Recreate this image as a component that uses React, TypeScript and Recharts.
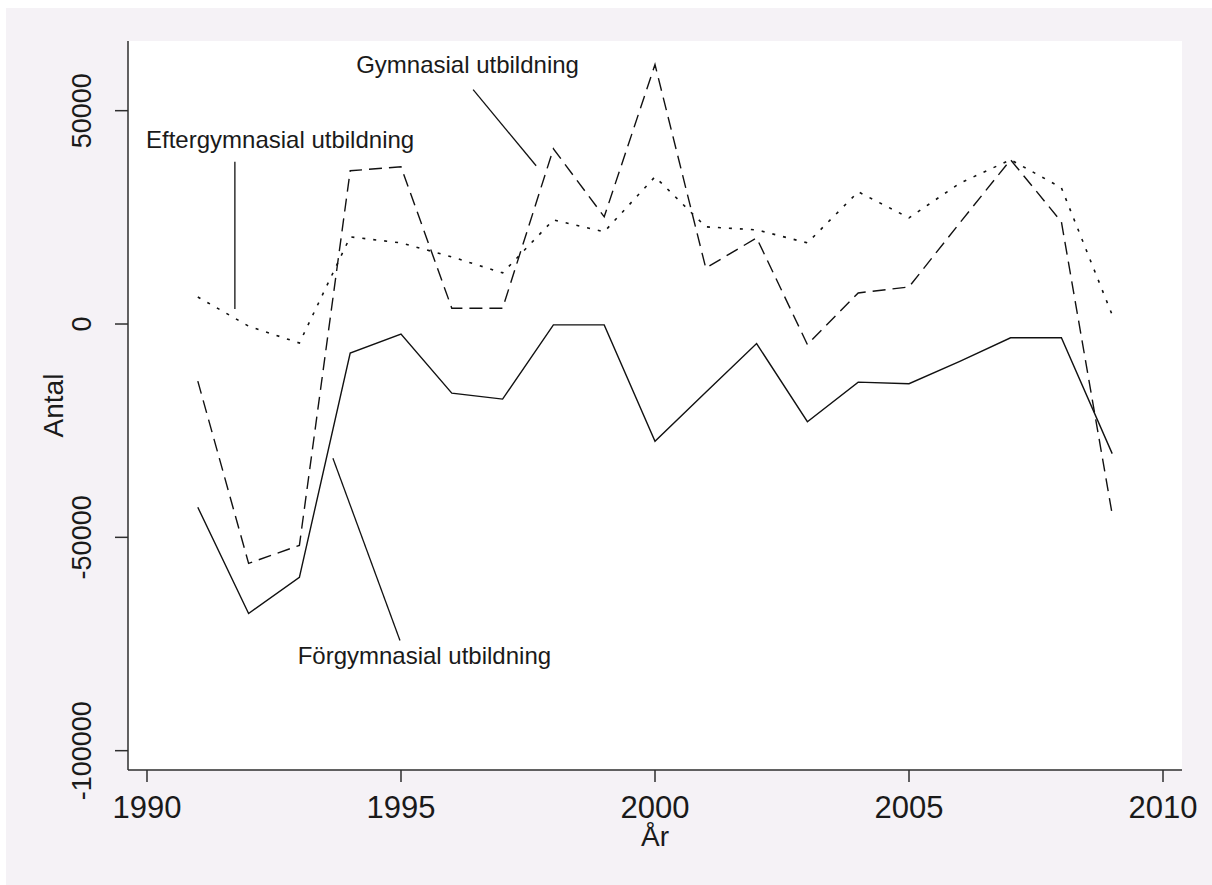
import React from 'react';
import { LineChart, Line, XAxis, YAxis, ReferenceLine, ReferenceDot, CartesianGrid } from 'recharts';

const years = [1991, 1992, 1993, 1994, 1995, 1996, 1997, 1998, 1999, 2000, 2001, 2002, 2003, 2004, 2005, 2006, 2007, 2008, 2009];
const forgymnasial = [-42960, -67840, -59390, -6810, -2350, -16200, -17600, -200, -200, -27470, -16000, -4580, -22910, -13620, -13990, -8760, -3220, -3220, -30380];
const gymnasial = [-13380, -56100, -51880, 35920, 36850, 3700, 3700, 41080, 25120, 60800, 13100, 20190, -4810, 7280, 8690, 23710, 38500, 23940, -44600];
const eftergymnasial = [6340, -500, -4460, 20420, 19010, 15730, 11970, 24410, 21600, 34510, 22770, 22070, 19010, 30990, 24880, 33000, 38500, 31930, 2110];

const xTicks = [1990, 1995, 2000, 2005, 2010];
const xDomain = [1989.626, 2010.374];
const yTicks = [-100000, -50000, 0, 50000];
const yDomain = [-104530, 66330];
const gridValues = [-50000, 0, 50000];

const seriesNames = ['Förgymnasial utbildning', 'Gymnasial utbildning', 'Eftergymnasial utbildning'];
const labelPos = [
  { x: 1995.46, y: -77700 },
  { x: 1996.31, y: 60900 },
  { x: 1992.62, y: 43300 },
];
const leaderLines = [
  [{ x: 1993.66, y: -31450 }, { x: 1994.98, y: -74180 }],
  [{ x: 1996.42, y: 54930 }, { x: 1997.66, y: 37090 }],
  [{ x: 1991.73, y: 38030 }, { x: 1991.73, y: 3520 }],
];

const data = years.map((yr, i) => ({
  year: yr,
  forg: forgymnasial[i],
  gym: gymnasial[i],
  efter: eftergymnasial[i],
}));

const FONT = 'Liberation Sans, Arial, sans-serif';
const TEXT = '#1a1a1a';
const AXIS = '#2e2e2e';

const XTick = (props: any) => {
  const { x, y, payload } = props;
  return (
    <text x={x} y={y + 36} textAnchor="middle" fontSize={31} fill={TEXT} fontFamily={FONT}>
      {payload.value}
    </text>
  );
};

const YTick = (props: any) => {
  const { x, y, payload } = props;
  const tx = x - 24;
  return (
    <text x={tx} y={y} transform={`rotate(-90, ${tx}, ${y})`} textAnchor="middle" fontSize={27} fill={TEXT} fontFamily={FONT}>
      {payload.value}
    </text>
  );
};

const YLabel = (props: any) => {
  const vb = props.viewBox || { x: 0, y: 33, width: 122, height: 729 };
  const cx = vb.x + 57;
  const cy = vb.y + vb.height / 2;
  return (
    <text x={cx} y={cy} transform={`rotate(-90, ${cx}, ${cy})`} textAnchor="middle" fontSize={28} fill={TEXT} fontFamily={FONT}>
      Antal
    </text>
  );
};

const XLabel = (props: any) => {
  const vb = props.viewBox || { x: 122, y: 762, width: 1054, height: 115 };
  const cx = vb.x + vb.width / 2;
  const cy = vb.y + 76;
  return (
    <text x={cx} y={cy} textAnchor="middle" fontSize={28} fill={TEXT} fontFamily={FONT}>
      År
    </text>
  );
};

const gridGen = (props: any) => {
  const ya = props && props.yAxis;
  if (ya && typeof ya.scale === 'function') {
    return gridValues.map((v) => ya.scale(v));
  }
  return [];
};

export default function App() {
  return (
    <div style={{ position: 'absolute', left: 6, top: 8, width: 1206, height: 877, background: '#f5f2f6' }}>
      <LineChart width={1206} height={877} data={data} margin={{ top: 33, right: 30, left: 0, bottom: 0 }}>
        <CartesianGrid fill="#ffffff" vertical={false} horizontal={true} stroke="#ece8ee" strokeWidth={1.5} horizontalCoordinatesGenerator={gridGen} />
        <XAxis
          dataKey="year"
          type="number"
          domain={xDomain}
          ticks={xTicks}
          height={115}
          tickSize={12}
          tickMargin={0}
          tick={<XTick />}
          axisLine={{ stroke: AXIS, strokeWidth: 1.5 }}
          tickLine={{ stroke: AXIS, strokeWidth: 1.5 }}
          label={<XLabel />}
        />
        <YAxis
          type="number"
          domain={yDomain}
          ticks={yTicks}
          width={122}
          tickSize={13}
          tickMargin={0}
          tick={<YTick />}
          axisLine={{ stroke: AXIS, strokeWidth: 1.5 }}
          tickLine={{ stroke: AXIS, strokeWidth: 1.5 }}
          label={<YLabel />}
        />
        {leaderLines.map((seg, i) => (
          <ReferenceLine key={'l' + i} segment={seg} stroke="#111" strokeWidth={1.3} ifOverflow="visible" />
        ))}
        {labelPos.map((p, i) => (
          <ReferenceDot
            key={'t' + i}
            x={p.x}
            y={p.y}
            r={0}
            fill="none"
            stroke="none"
            ifOverflow="visible"
            label={{ value: seriesNames[i], position: 'center', fontSize: 24, fill: TEXT, fontFamily: FONT }}
          />
        ))}
        <Line type="linear" dataKey="forg" stroke="#111" strokeWidth={1.4} dot={false} isAnimationActive={false} />
        <Line type="linear" dataKey="gym" stroke="#111" strokeWidth={1.4} strokeDasharray="13 7" dot={false} isAnimationActive={false} />
        <Line type="linear" dataKey="efter" stroke="#111" strokeWidth={1.6} strokeDasharray="3 8" dot={false} isAnimationActive={false} />
      </LineChart>
    </div>
  );
}
